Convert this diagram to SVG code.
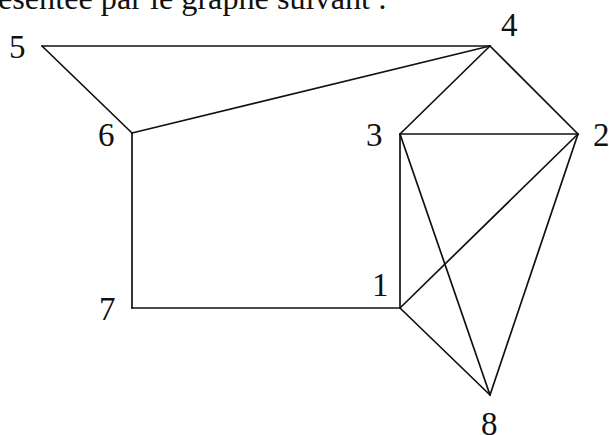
<svg xmlns="http://www.w3.org/2000/svg" width="609" height="435" viewBox="0 0 609 435">
<style>
.e{stroke:#111;stroke-width:1.7;fill:none;stroke-linecap:round}
.l{font-family:"Liberation Serif","Times New Roman",serif;font-size:33px;fill:#111}
.t{font-family:"Liberation Serif","Times New Roman",serif;font-size:32px;fill:#111}
</style>
<rect width="609" height="435" fill="#fff"/>
<text class="t" x="-2" y="9" textLength="389" lengthAdjust="spacingAndGlyphs">esentée par le graphe suivant :</text>
<g id="edges">
<line class="e" x1="42" y1="46" x2="490" y2="46"/>
<line class="e" x1="42" y1="46" x2="132" y2="133"/>
<line class="e" x1="132" y1="133" x2="490" y2="46"/>
<line class="e" x1="132" y1="133" x2="132" y2="308"/>
<line class="e" x1="132" y1="308" x2="400" y2="308"/>
<line class="e" x1="490" y1="46" x2="400" y2="134"/>
<line class="e" x1="490" y1="46" x2="578" y2="134"/>
<line class="e" x1="400" y1="134" x2="578" y2="134"/>
<line class="e" x1="400" y1="134" x2="400" y2="308"/>
<line class="e" x1="400" y1="134" x2="490" y2="395"/>
<line class="e" x1="578" y1="134" x2="400" y2="308"/>
<line class="e" x1="578" y1="134" x2="490" y2="395"/>
<line class="e" x1="400" y1="308" x2="490" y2="395"/>
</g>
<g id="n1"><text class="l" x="372" y="296">1</text></g>
<g id="n2"><text class="l" x="593" y="146">2</text></g>
<g id="n3"><text class="l" x="366" y="146">3</text></g>
<g id="n4"><text class="l" x="501" y="36">4</text></g>
<g id="n5"><text class="l" x="9" y="58">5</text></g>
<g id="n6"><text class="l" x="98" y="146">6</text></g>
<g id="n7"><text class="l" x="99" y="320">7</text></g>
<g id="n8"><text class="l" x="481" y="435">8</text></g>
</svg>
